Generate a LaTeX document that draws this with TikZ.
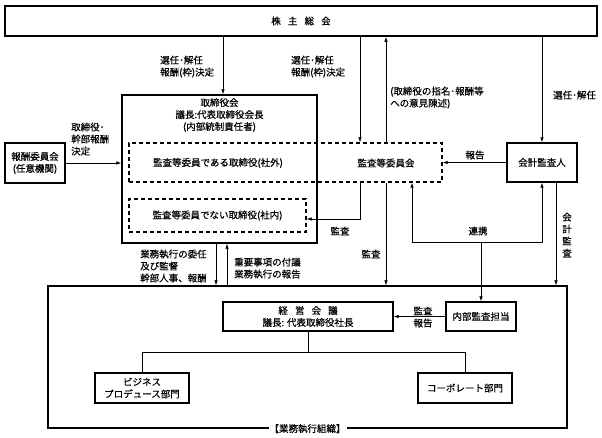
\documentclass[tikz,border=0pt]{standalone}
\usepackage{fontspec}
\setmainfont{Noto Sans CJK JP}[FakeBold=0.4]
\usetikzlibrary{arrows.meta}

\begin{document}
\begin{tikzpicture}[x=1pt,y=-1pt,
  every node/.style={font=\fontsize{9.5}{12}\selectfont},
  box/.style={draw,line width=1.3pt,inner sep=0pt,align=center},
  dbox/.style={draw,line width=1.3pt,dash pattern=on 4pt off 3pt,inner sep=0pt},
  lbl/.style={inner sep=0pt,align=left},
  ln/.style={line width=0.7pt},
  arr/.style={ln,-{Latex[length=5pt,width=3.5pt]}},
  arr2/.style={ln,{Latex[length=5pt,width=3.5pt]}-{Latex[length=5pt,width=3.5pt]}}]
  \useasboundingbox (0,0) rectangle (602,438);

  % 株主総会
  \node[box,line width=1.6pt,minimum width=592pt,minimum height=30pt] (soukai) at (301,21) {株\hspace{.75em}主\hspace{.75em}総\hspace{.75em}会};

  % 取締役会
  \node[box,minimum width=195pt,minimum height=148pt] (board) at (219.5,169) {};
  \node[anchor=north,align=center,inner sep=0pt] (boardName) at (219.5,98) {取締役会\\議長:代表取締役会長\\(内部統制責任者)};

  % 監査等委員会(点線)
  \node[dbox,minimum width=313pt,minimum height=39pt] (kansa) at (285.5,162.5) {};
  \node (shagai) at (218,163) {監査等委員である取締役(社外)};
  \node (kansaName) at (386,163) {監査等委員会};
  \node[dbox,minimum width=177pt,minimum height=33pt] (shanai) at (217.5,215.5) {監査等委員でない取締役(社内)};

  % 報酬委員会・会計監査人
  \node[box,minimum width=60pt,minimum height=40pt] (houshu) at (35,163) {報酬委員会\\(任意機関)};
  \node[box,minimum width=70pt,minimum height=39pt] (kaikei) at (542,162.5) {会計監査人};

  % 業務執行組織
  \node[box,minimum width=519pt,minimum height=142pt] (soshiki) at (307.5,357) {};
  \node[fill=white,inner sep=1pt] (soshikiName) at (soshiki.south) {【業務執行組織】};
  \node[box,minimum width=170pt,minimum height=29pt] (keiei) at (308,316.5) {経\hspace{.75em}営\hspace{.75em}会\hspace{.75em}議\\議長: 代表取締役社長};
  \node[box,minimum width=70pt,minimum height=29pt] (naibu) at (481,316.5) {内部監査担当};
  \node[box,minimum width=94pt,minimum height=30pt] (biz) at (142,388) {ビジネス\\プロデュース部門};
  \node[box,minimum width=94pt,minimum height=30pt] (corp) at (465,388) {コーポレート部門};

  % 線の位置
  \coordinate (xA) at (223,0);
  \coordinate (xB) at (360,0);
  \coordinate (xC) at (412,0);
  \coordinate (xD) at (556,0);
  \coordinate (xE) at (216,0);
  \coordinate (xF) at (227,0);
  \coordinate (yK) at (0,219);
  \coordinate (yR) at (0,242);
  \coordinate (yT) at (0,352);

  % 矢印
  \draw[arr] (soukai.south -| xA) -- (board.north -| xA);
  \draw[arr] (soukai.south -| xB) -- (kansa.north -| xB);
  \draw[arr] (kansa.north -| kansaName) -- (soukai.south -| kansaName);
  \draw[arr] (soukai.south -| kaikei) -- (kaikei.north);
  \draw[arr] (houshu.east) -- (board.west |- houshu);
  \draw[arr] (kaikei.west) -- (kansa.east |- kaikei);
  \draw[arr] (kansa.south -| xB) -- (xB |- yK) -- (shanai.east |- yK);
  \draw[arr] (kansa.south -| kansaName) -- (soshiki.north -| kansaName);
  \draw[arr2] (kansa.south -| xC) |- (kaikei.south |- yR) -- (kaikei.south);
  \draw[arr] (naibu.north |- yR) -- (naibu.north);
  \draw[arr] (kaikei.south -| xD) -- (soshiki.north -| xD);
  \draw[arr] (board.south -| xE) -- (soshiki.north -| xE);
  \draw[arr] (soshiki.north -| xF) -- (board.south -| xF);
  \draw[arr] (naibu.west) -- (keiei.east);
  \draw[ln] (keiei.south) -- (keiei.south |- yT);
  \draw[ln] (biz.north) |- (corp.north |- yT) -- (corp.north);

  % ラベル
  \node[lbl,anchor=north west] (lblSen1) at (160,55.5) {選任･解任\\報酬(枠)決定};
  \node[lbl,anchor=north west] (lblSen2) at (291,55.5) {選任･解任\\報酬(枠)決定};
  \node[lbl,anchor=north west] (lblIken) at (390,86.5) {(取締役の指名･報酬等\\への意見陳述)};
  \node[lbl,anchor=north west] (lblSen3) at (553,90.5) {選任･解任};
  \node[lbl,anchor=north west] (lblHoushu) at (71,122.5) {取締役･\\幹部報酬\\決定};
  \node (lblHoukoku) at (475,155) {報告};
  \node (lblKansa1) at (340,231) {監査};
  \node (lblKansa2) at (371,254) {監査};
  \node (lblRenkei) at (478,231) {連携};
  \node[align=center] (lblKaikei) at (567,235) {会\\計\\監\\査};
  \node[lbl,anchor=north west] (lblIrin) at (140,249.5) {業務執行の委任\\及び監督\\幹部人事、報酬};
  \node[lbl,anchor=north west] (lblFugi) at (234,257.5) {重要事項の付議\\業務執行の報告};
  \node[align=center] (lblNaibu) at (423,317) {監査\\報告};
\end{tikzpicture}
\end{document}
